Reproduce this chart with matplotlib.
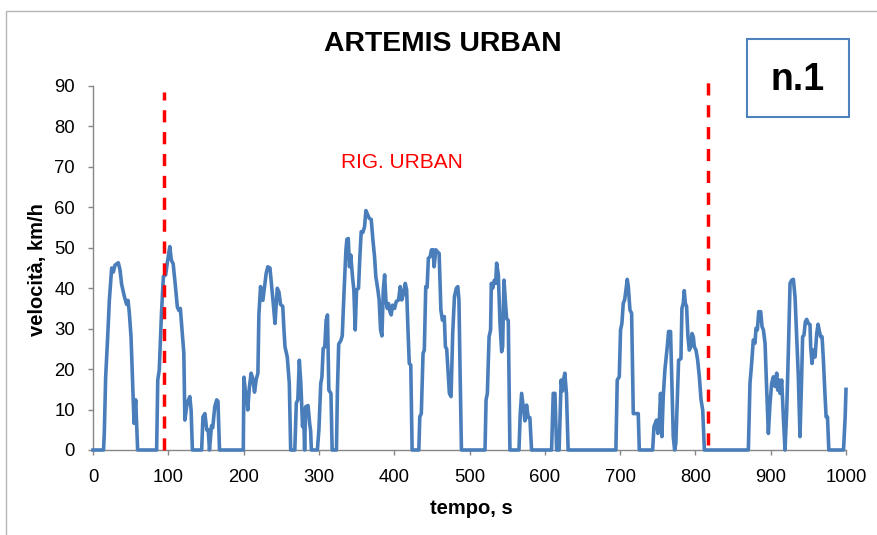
"""Speed trace of the ARTEMIS urban cycle with the RIG. URBAN window marked."""

import matplotlib

matplotlib.use("Agg")
import matplotlib.pyplot as plt
import matplotlib.patches as mpatches

# time (s) and speed (km/h) of the urban cycle
t_s = [
    0, 14, 15, 16.8, 19.5, 21.7, 24.8, 27, 29.2, 33.6, 35.9, 38, 41.6, 44.7, 46.5, 48.2,
    50.5, 52.7, 54.5, 56.7, 58, 59.3, 84.5, 86, 88, 91, 93.5, 96.5, 98.6, 102, 104, 106.5,
    109.5, 112, 114, 116, 118.5, 120.6, 122, 125, 128.6, 130.3, 132, 144.3, 146, 148.6, 151,
    153, 154.7, 157.4, 159, 161.7, 164.3, 166, 168, 199.6, 200.4, 202.6, 204, 205.5, 207.7,
    210, 212, 214.5, 216.8, 219, 220.3, 222.5, 225.6, 227.8, 230, 232.2, 235, 237, 239.5,
    241.7, 244.7, 247, 249, 252, 253.6, 255, 258, 260.7, 262.5, 268, 270, 272, 274, 276,
    278.3, 279.6, 281, 282.5, 285.6, 287.8, 289, 290, 298, 300, 302.5, 304, 305.7, 307.8,
    309.6, 311.4, 313.2, 316, 317.6, 323.3, 324.6, 326.3, 329, 331, 333.5, 335.9, 337.2, 339,
    340.6, 342.3, 344.6, 346.4, 348.2, 350, 352.6, 354.4, 356.2, 358.4, 360.6, 362.4, 364.1,
    366.8, 369.5, 371.7, 373.9, 375.6, 378.3, 380, 381.9, 383.7, 385.5, 387.3, 389, 390.8,
    392.5, 394.3, 396, 397.9, 400.5, 402.7, 405.8, 408, 410, 412.5, 414.7, 416.5, 418.3, 420,
    422, 423.8, 432.7, 434, 436, 438.3, 440, 441.9, 443.7, 445.4, 447.7, 449.5, 451.7, 453,
    455.3, 457.5, 459.7, 462, 464, 466.5, 468, 469.7, 473.3, 475.5, 477.7, 480, 482.5, 484.5,
    486, 487.6, 489.3, 520.6, 522, 523.7, 526, 528, 529, 530.8, 533, 534.8, 536, 538.3, 540.5,
    542.7, 544, 545.8, 547.5, 549.3, 551.5, 553.7, 565.7, 567.4, 569.2, 571.4, 573.6, 575.8,
    578, 580.2, 582.4, 609, 611.2, 613.5, 615.7, 619, 621.7, 623.5, 624.8, 626.6, 628.8, 631,
    694.4, 696.2, 698.9, 700.6, 702.4, 704.2, 706, 707.8, 709.5, 710.9, 713.1, 715.3, 717.5,
    719.7, 724.1, 725.5, 743.2, 745, 746.7, 748.4, 750.2, 752, 753.7, 755.5, 757.3, 759.5,
    762.6, 764.4, 767, 768.8, 770.6, 772.4, 774, 775.5, 777.7, 780.8, 782.1, 783.9, 785.2,
    786.6, 788.3, 790.1, 791.9, 793.7, 795.5, 797.2, 798.6, 800.8, 803, 805.3, 807.5, 809.7,
    811.9, 870.3, 872.5, 874.7, 876.9, 879.1, 880.5, 882.3, 884.1, 886.7, 888.5, 890.3, 892.5,
    894.7, 896.9, 899.1, 901.3, 903.6, 905.8, 908, 909.3, 911.1, 912.4, 914.6, 916.8, 919,
    921.3, 923.5, 925.7, 927.9, 930.1, 932.3, 934.5, 936.7, 938.9, 941.1, 942.4, 944.2, 946,
    947.8, 950, 952.2, 953.1, 954.9, 956.7, 958.9, 961.1, 962.9, 964.7, 966.4, 968.2, 970,
    971.8, 973.6, 975.4, 977.2, 996.7, 998.9, 1000,
]
v_kmh = [
    0, 0, 4.2, 18, 28, 37, 45, 44, 45.7, 46.3, 44.5, 41, 38, 36, 37, 34,
    28, 16.5, 6.6, 12.4, 6, 0, 0, 17.3, 19.8, 34, 42.9, 43.3, 46.2, 50.3, 47, 46,
    40.4, 35.4, 34.5, 35, 28.9, 24, 7.4, 11.6, 13.2, 9.8, 0, 0, 8.2, 9, 5,
    5, 0, 6, 5.5, 10.7, 12.4, 12, 0, 0, 18, 14.2, 13.5, 9.9, 15.6,
    19, 17.8, 14.3, 17.5, 19, 33.4, 40.4, 37, 40.4, 43.7, 45.3, 45, 41, 36,
    31.3, 40, 39, 36, 35.5, 29.7, 25.5, 23, 16.5, 0, 0, 11.6, 12.4, 22.2, 16.5,
    5.8, 10, 0, 10.7, 11, 6.4, 4.8, 0, 0, 5, 16.5, 18, 25.1, 25.5,
    32.1, 33.4, 14.8, 14, 0, 0, 14.8, 26.2, 27, 28.2, 39.6, 49.5, 52.1, 52.3,
    45.3, 48.2, 42.9, 39.6, 29.7, 39.6, 40, 47.8, 54, 53.8, 55.2, 59.2, 58.5,
    57.3, 57, 52, 47.8, 42.9, 39.6, 37.1, 29.7, 28.2, 39.6, 43.3, 37, 35,
    36.2, 34.2, 33.4, 35.8, 35, 36.7, 37.1, 40.4, 37.1, 38.7, 41.2, 39.6, 29.7, 21.4,
    21, 0, 0, 8.2, 9, 23.9, 24.7, 40.4, 40.2, 47.4, 47.8, 49.5, 49.5, 45.3,
    49.5, 49, 48.6, 34.6, 32.1, 33, 25.5, 25, 14, 13.2, 28.8, 37.9, 40, 40.4,
    37, 18, 0, 0, 12.4, 14, 28, 29.7, 41.2, 40, 42, 41.2, 46.2, 43.3, 31.3,
    24.3, 25.5, 42, 37.1, 32.5, 32, 0, 0, 9, 14, 10.5, 7.2, 11.1,
    8, 8, 0, 0, 14, 14, 0, 0, 17.3, 14.6, 17.3, 19, 13.8, 0,
    0, 17.3, 18.1, 29.7, 31.3, 36.3, 37.1, 39.6, 42.2, 40.4, 34.6, 33.8, 9,
    9, 9, 0, 0, 5.8, 6.6, 7.4, 4.1, 7, 14, 3.3, 13.2, 19.8,
    25.5, 29.3, 29.3, 16.5, 3.3, 0, 1.6, 9.9, 22.2, 22.6, 35, 36.3, 39.4,
    36.3, 35.5, 28, 24.7, 25.5, 28.8, 28, 25.5, 24.7, 22.2, 18, 12.4, 9.9,
    0, 0, 16.5, 21.4, 27.2, 26.4, 30.1, 29.7, 34.2, 34.2, 30.5, 29.7, 26.4,
    14.8, 4.1, 11.5, 16.5, 18.1, 15.7, 19, 14.8, 17.3, 14, 17.3, 8.2, 0,
    9.9, 24.7, 41.2, 42, 42.2, 37.9, 28, 18.1, 3.3, 18, 28, 28.4, 31.7,
    32.3, 31.3, 31, 25.5, 21.4, 24.7, 23, 28.8, 31.1, 29.3, 28, 28, 22.2,
    14.8, 8.2, 8.2, 0, 0, 8.2, 15,
]

# start/end of the RIG. URBAN window (s) and the height of the markers (km/h)
rig_t = [94, 817]
rig_top = [88.5, 92.5]
rig_bottom = [0, 1.2]

x_ticks = list(range(0, 1001, 100))
y_ticks = list(range(0, 91, 10))

W, H = 877, 535
plt.rcParams["font.family"] = ["Liberation Sans", "DejaVu Sans"]

fig = plt.figure(figsize=(W / 100, H / 100), dpi=100)
fig.patch.set_facecolor("white")

# chart-area frame, open to the right and bottom
fig.add_artist(mpatches.Rectangle((6 / W, -0.2), 1.5, 1.2 - 10.5 / H, transform=fig.transFigure,
                                  fill=False, edgecolor="#b4b4b4", lw=1.0))

ax = fig.add_axes([93 / W, 1 - 450 / H, (846 - 93) / W, (450 - 86) / H])
ax.plot(t_s, v_kmh, color="#4a7ebb", lw=2.6, solid_joinstyle="round", clip_on=False, zorder=3)

for t, lo, hi in zip(rig_t, rig_bottom, rig_top):
    ax.plot([t, t], [lo, hi], color="red", lw=2.5, ls=(0, (3.5, 2.8)), clip_on=False, zorder=4)

ax.text(410, 71, "RIG. URBAN", color="red", fontsize=15, ha="center", va="center")

ax.set_xlim(0, 1000)
ax.set_ylim(0, 90)
ax.set_xticks(x_ticks)
ax.set_yticks(y_ticks)
for s in ["top", "right"]:
    ax.spines[s].set_visible(False)
for s in ["left", "bottom"]:
    ax.spines[s].set_color("#868686")
    ax.spines[s].set_linewidth(1.0)
ax.tick_params(axis="both", length=3.5, width=1.0, color="#868686", labelsize=13.3)
ax.tick_params(axis="y", pad=9.5)
ax.tick_params(axis="x", pad=10)

fig.text(443 / W, 1 - 44 / H, "ARTEMIS URBAN", fontsize=20.4, fontweight="bold", ha="center", va="center")
fig.text(471 / W, 1 - 508 / H, "tempo, s", fontsize=14.5, fontweight="bold", ha="center", va="center")
fig.text(37 / W, 1 - 270 / H, "velocità, km/h", fontsize=14.5, fontweight="bold", rotation=90,
         ha="center", va="center")

# cycle number box
fig.add_artist(mpatches.Rectangle((747 / W, 1 - 117 / H), 102 / W, 78 / H, transform=fig.transFigure,
                                  facecolor="white", edgecolor="#4f81bd", lw=1.5))
fig.text(798 / W, 1 - 80 / H, "n.1", fontsize=27, fontweight="bold", ha="center", va="center")

fig.savefig("out.png", dpi=100)
